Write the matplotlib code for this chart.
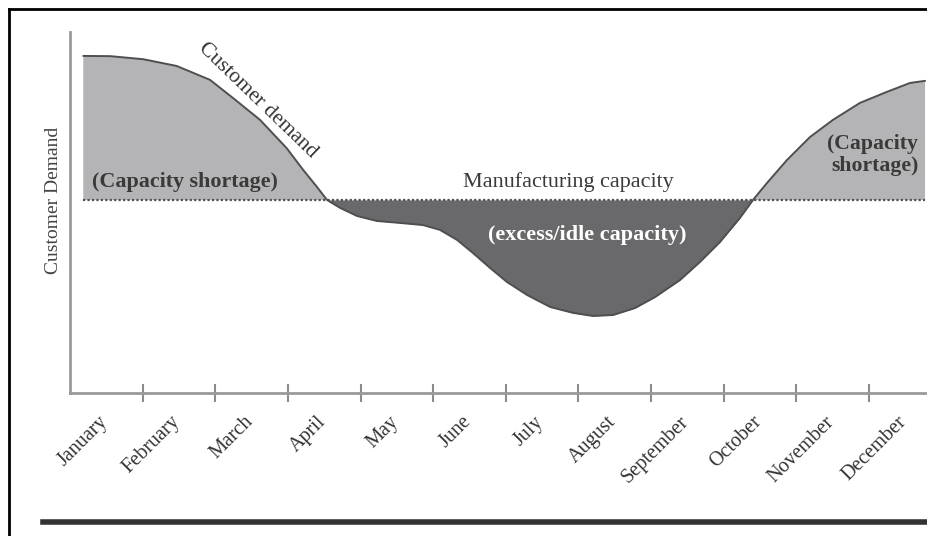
import matplotlib
matplotlib.use("Agg")
import matplotlib.pyplot as plt
from matplotlib.lines import Line2D
from matplotlib.transforms import ScaledTranslation
import numpy as np

plt.rcParams['font.family'] = ['Liberation Serif', 'DejaVu Serif']

# Month intervals (labels sit in the middle of each interval)
months = ["January", "February", "March", "April", "May", "June", "July",
          "August", "September", "October", "November", "December"]

# Customer demand through the year (month position, demand index)
demand_x = [0.183, 0.551, 1.009, 1.469, 1.928, 2.248, 2.616, 2.984, 3.212,
            3.397, 3.539, 3.718, 3.952, 4.227, 4.544, 4.860, 5.094, 5.329,
            5.549, 5.783, 6.017, 6.292, 6.609, 6.926, 7.201, 7.477, 7.779,
            8.055, 8.399, 8.674, 8.949, 9.225, 9.404, 9.597, 9.872, 10.189,
            10.506, 10.878, 11.249, 11.566, 11.773]
demand_y = [174.6, 174.5, 172.9, 169.4, 162.2, 152.7, 141.5, 126.8, 115.5,
            106.9, 100.0, 95.9, 91.7, 89.1, 88.1, 87.0, 84.5, 79.3,
            72.5, 64.8, 57.5, 50.8, 44.6, 41.5, 39.9, 40.4, 44.0,
            49.7, 58.5, 67.9, 78.2, 90.7, 100.0, 108.8, 120.7, 132.6,
            141.5, 150.3, 156.0, 160.6, 161.7]

# Flat manufacturing capacity
capacity = 100.0

fig = plt.figure(figsize=(9.27, 5.36), dpi=100)
ax = fig.add_axes([70 / 927, 1 - 393 / 536, 1 - 70 / 927, (393 - 32) / 536])

x = np.array(demand_x)
y = np.array(demand_y)
cap = np.full_like(x, capacity)

ax.fill_between(x, y, cap, where=y >= cap, interpolate=True,
                color="#b4b4b6", linewidth=0)
ax.fill_between(x, y, cap, where=y <= cap, interpolate=True,
                color="#69696b", linewidth=0)
ax.plot(x, y, color="#4f4f51", lw=1.4, solid_capstyle="round",
        solid_joinstyle="round")
ax.plot([x[0], x[-1]], [capacity, capacity], color="#505052", lw=1.6,
        linestyle=(0, (1, 1)))

ax.set_xlim(0, 11.8)
ax.set_ylim(0, 187)

for side in ("top", "right"):
    ax.spines[side].set_visible(False)
for side in ("left", "bottom"):
    ax.spines[side].set_color("#9a9a9a")
    ax.spines[side].set_linewidth(2)

ax.set_yticks([])
ax.set_xticks(range(1, 12))
ax.tick_params(axis="x", which="major", direction="inout", length=13,
               width=1.5, color="#8c8c8c", labelbottom=False)
ax.set_xticks(np.arange(len(months)) + 0.5, minor=True)
labels = ax.set_xticklabels(months, minor=True, rotation=45, ha="right",
                            va="top", rotation_mode="anchor", fontsize=14.5,
                            color="#333333")
ax.tick_params(axis="x", which="minor", length=0, pad=14)
shift = ScaledTranslation(-8 / 100, 0, fig.dpi_scale_trans)
for lab in ax.get_xticklabels(minor=True):
    lab.set_transform(lab.get_transform() + shift)

fig.text(54 / 927, 1 - 200 / 536, "Customer Demand", rotation=90,
         ha="center", va="center", fontsize=14, color="#444444")

# Annotations
ax.text(2.59, 151.5, "Customer demand", rotation=-44, ha="center",
        va="center", fontsize=15.5, color="#333333")
ax.text(0.3, 109.3, "(Capacity shortage)", ha="left", va="center",
        fontsize=15.8, fontweight="bold", color="#3a3a3a")
ax.text(6.86, 109.3, "Manufacturing capacity", ha="center", va="center",
        fontsize=15.9, color="#3a3a3a")
ax.text(7.12, 81.9, "(excess/idle capacity)", ha="center", va="center",
        fontsize=16, fontweight="bold", color="white")
ax.text(11.68, 123.3, "(Capacity\nshortage)", ha="right", va="center",
        fontsize=15.7, fontweight="bold", color="#3a3a3a", linespacing=1.1)

# Page frame: top and left rules, heavy rule at the foot
fig.add_artist(Line2D([9 / 927, 1], [1 - 9 / 536, 1 - 9 / 536],
                      color="black", lw=2, transform=fig.transFigure))
fig.add_artist(Line2D([9 / 927, 9 / 927], [0, 1 - 9 / 536],
                      color="black", lw=2, transform=fig.transFigure))
fig.add_artist(Line2D([43 / 927, 1], [1 - 522 / 536, 1 - 522 / 536],
                      color="#333333", lw=4, transform=fig.transFigure))

fig.savefig("out.png", dpi=100)
